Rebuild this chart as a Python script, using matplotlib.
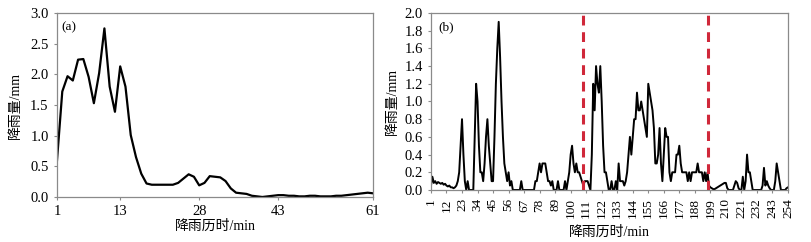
# rainfall_panels.py
# Two-panel rainfall hyetograph: (a) 61-min event, (b) 254-min event with split lines

import numpy as np
import matplotlib
matplotlib.use("Agg")
import matplotlib.pyplot as plt

plt.rcParams['font.family'] = ['Liberation Serif', 'Noto Sans CJK SC', 'DejaVu Sans']

# ---- data -----------------------------------------------------------------
# (a) rainfall per minute, minutes 1..61
rain_a = [0.60, 1.72, 1.97, 1.90, 2.24, 2.25, 1.96, 1.53, 2.02, 2.75,
          1.80, 1.39, 2.13, 1.80, 1.01, 0.65, 0.38, 0.22, 0.20, 0.20,
          0.20, 0.20, 0.20, 0.23, 0.30, 0.37, 0.33, 0.19, 0.23, 0.34,
          0.33, 0.32, 0.26, 0.14, 0.07, 0.06, 0.05, 0.02, 0.01, 0.00,
          0.01, 0.02, 0.03, 0.03, 0.02, 0.02, 0.01, 0.01, 0.02, 0.02,
          0.01, 0.01, 0.01, 0.02, 0.02, 0.03, 0.04, 0.05, 0.06, 0.07,
          0.06]
ticks_a = [1, 13, 28, 43, 61]

# (b) rainfall per minute, minutes 1..254
rain_b = [
    0.05, 0.15, 0.08, 0.10, 0.07, 0.09, 0.08, 0.07, 0.08, 0.06,   # 1-10
    0.07, 0.05, 0.04, 0.05, 0.03, 0.03, 0.02, 0.03, 0.05, 0.10,   # 11-20
    0.20, 0.50, 0.80, 0.40, 0.10, 0.00, 0.10, 0.00, 0.00, 0.00,   # 21-30
    0.00, 0.60, 1.20, 1.00, 0.50, 0.20, 0.20, 0.10, 0.30, 0.60,   # 31-40
    0.80, 0.50, 0.30, 0.10, 0.10, 0.60, 1.20, 1.60, 1.90, 1.50,   # 41-50
    1.00, 0.60, 0.30, 0.20, 0.10, 0.20, 0.05, 0.10, 0.00, 0.00,   # 51-60
    0.00, 0.00, 0.00, 0.00, 0.10, 0.00, 0.00, 0.00, 0.00, 0.00,   # 61-70
    0.00, 0.00, 0.00, 0.00, 0.10, 0.10, 0.20, 0.30, 0.20, 0.30,   # 71-80
    0.30, 0.30, 0.20, 0.10, 0.10, 0.05, 0.10, 0.00, 0.00, 0.00,   # 81-90
    0.10, 0.00, 0.00, 0.00, 0.00, 0.10, 0.00, 0.10, 0.20, 0.40,   # 91-100
    0.50, 0.30, 0.20, 0.30, 0.20, 0.20, 0.15, 0.10, 0.05, 0.10,   # 101-110
    0.10, 0.10, 0.05, 0.00, 0.40, 1.20, 0.90, 1.40, 1.20, 1.10,   # 111-120
    1.40, 1.00, 0.50, 0.20, 0.20, 0.10, 0.00, 0.00, 0.10, 0.00,   # 121-130
    0.00, 0.10, 0.00, 0.30, 0.10, 0.10, 0.10, 0.05, 0.10, 0.20,   # 131-140
    0.40, 0.60, 0.40, 0.60, 0.80, 0.80, 1.10, 0.90, 0.90, 1.00,   # 141-150
    0.90, 0.80, 0.70, 0.60, 1.20, 1.10, 1.00, 0.90, 0.70, 0.30,   # 151-160
    0.30, 0.40, 0.70, 0.30, 0.10, 0.40, 0.70, 0.60, 0.60, 0.20,   # 161-170
    0.10, 0.20, 0.20, 0.20, 0.40, 0.40, 0.50, 0.30, 0.20, 0.20,   # 171-180
    0.20, 0.20, 0.10, 0.20, 0.10, 0.20, 0.20, 0.20, 0.20, 0.30,   # 181-190
    0.20, 0.20, 0.20, 0.10, 0.20, 0.10, 0.20, 0.05, 0.03, 0.02,   # 191-200
    0.01, 0.01, 0.02, 0.03, 0.04, 0.05, 0.06, 0.07, 0.08, 0.08,   # 201-210
    0.02, 0.00, 0.00, 0.00, 0.00, 0.05, 0.10, 0.08, 0.02, 0.00,   # 211-220
    0.00, 0.15, 0.00, 0.10, 0.40, 0.20, 0.20, 0.10, 0.00, 0.00,   # 221-230
    0.00, 0.00, 0.00, 0.00, 0.00, 0.05, 0.25, 0.05, 0.10, 0.05,   # 231-240
    0.02, 0.00, 0.00, 0.00, 0.10, 0.30, 0.20, 0.10, 0.00, 0.00,   # 241-250
    0.00, 0.00, 0.02, 0.03,                                       # 251-254
]
ticks_b = list(range(1, 255, 11))
split_b = [108.5, 197.5]   # event split positions (min)

ylabel = '降雨量/mm'
xlabel = '降雨历时/min'
frame_col = '#8a8a8a'

# ---- figure ---------------------------------------------------------------
fig = plt.figure(figsize=(8.11, 2.42), dpi=100)
ax_a = fig.add_axes([0.0703, 0.186, 0.3896, 0.760])
ax_b = fig.add_axes([0.5314, 0.2149, 0.4402, 0.7314])

for ax in (ax_a, ax_b):
    for sp in ax.spines.values():
        sp.set_color(frame_col)
        sp.set_linewidth(0.9)
    ax.tick_params(colors=frame_col, labelcolor='black', labelsize=10.5,
                   length=2.5, width=0.8, direction='out')

# (a)
min_a = np.arange(1, len(rain_a) + 1)
ax_a.plot(min_a, rain_a, color='black', lw=1.6)
ax_a.set_xlim(1, 61)
ax_a.set_ylim(0, 3.0)
ax_a.set_xticks(ticks_a)
ax_a.set_yticks(np.arange(0, 3.01, 0.5))
ax_a.yaxis.set_major_formatter(matplotlib.ticker.FormatStrFormatter('%.1f'))
ax_a.set_xlabel(xlabel, fontsize=10, labelpad=1)
ax_a.set_ylabel(ylabel, fontsize=10, labelpad=6)
ax_a.text(0.015, 0.955, '(a)', transform=ax_a.transAxes, fontsize=9.5, va='top')

# (b)
min_b = np.arange(1, len(rain_b) + 1)
ax_b.plot(min_b, rain_b, color='black', lw=1.4)
for xs in split_b:
    ax_b.axvline(xs, color='#d0283a', lw=2.2, ls=(0, (3.2, 2.2)), zorder=3)
ax_b.set_xlim(1, 254)
ax_b.set_ylim(0, 2.0)
ax_b.set_xticks(ticks_b)
ax_b.set_xticklabels([str(t) for t in ticks_b], rotation=90)
ax_b.set_yticks(np.arange(0, 2.01, 0.2))
ax_b.yaxis.set_major_formatter(matplotlib.ticker.FormatStrFormatter('%.1f'))
ax_b.tick_params(axis='x', labelsize=9.5)
ax_b.set_xlabel(xlabel, fontsize=10, labelpad=5)
ax_b.set_ylabel(ylabel, fontsize=10, labelpad=4)
ax_b.text(0.02, 0.955, '(b)', transform=ax_b.transAxes, fontsize=9.5, va='top')

fig.savefig('out.png', dpi=100)
